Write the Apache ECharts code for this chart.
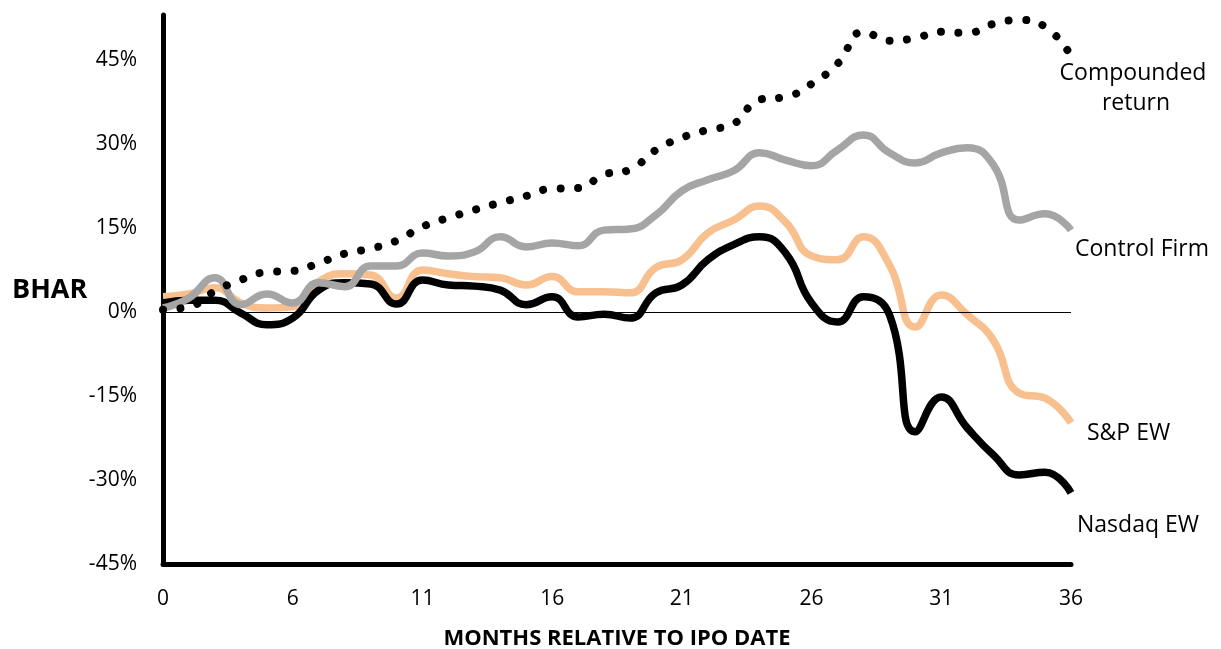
<!DOCTYPE html>
<html>
<head>
<meta charset="utf-8">
<script src="https://cdn.jsdelivr.net/npm/echarts@6/dist/echarts.min.js"></script>
<style>
  html, body { margin: 0; padding: 0; background: #fff; }
  #chart { width: 1221px; height: 649px; }
</style>
</head>
<body>
<div id="chart"></div>
<script>
// months relative to IPO date (category labels, shown every 5th)
var months = ['0', '2', '3', '4', '5', '6', '7', '8', '9', '10', '11', '12', '13', '14', '15', '16', '17', '18',
              '19', '20', '21', '22', '23', '24', '25', '26', '27', '28', '29', '30', '31', '32', '33', '34', '35', '36'];

// BHAR in percent
var spEW = [2.7, 3.2, 4.3, 1.6, 0.7, 0.9, 5.4, 6.8, 6.6, 2.5, 7.5, 6.8, 6.3, 6.1, 4.8, 6.3, 3.6, 3.6,
            3.4, 7.9, 9.3, 14.1, 16.4, 18.9, 16.0, 10.0, 9.3, 13.4, 8.4, -2.7, 3.0, -0.5, -5.0, -14.5, -15.4, -19.8];
var nasdaqEW = [1.6, 2.1, 2.1, -0.2, -2.3, -1.1, 3.9, 5.2, 5.0, 1.4, 5.7, 4.8, 4.6, 3.9, 1.3, 2.7, -0.9, -0.4,
                -1.1, 3.4, 4.8, 9.3, 12.0, 13.4, 10.5, 1.6, -1.8, 2.7, -0.5, -21.4, -15.2, -20.7, -25.5, -29.1, -28.6, -32.3];
var controlFirm = [0.7, 2.5, 6.1, 1.3, 3.2, 1.6, 5.2, 4.5, 8.2, 8.2, 10.5, 10.0, 10.7, 13.4, 11.6, 12.3, 11.8, 14.6,
                   14.8, 17.3, 21.6, 23.6, 25.2, 28.4, 27.1, 26.1, 28.9, 31.6, 28.4, 26.6, 28.4, 29.3, 26.3, 16.4, 17.5, 14.6];
var compounded = [0.4, 0.9, 3.7, 5.7, 7.1, 7.3, 8.7, 10.4, 11.3, 12.7, 15.2, 16.8, 18.2, 19.5, 20.7, 22.0, 22.1, 24.5,
                  25.4, 28.9, 31.1, 32.5, 33.6, 37.9, 38.4, 40.7, 44.3, 50.0, 48.4, 48.9, 50.0, 49.8, 51.4, 52.1, 50.9, 45.7];

var font = '"Open Sans", sans-serif';

function label(text, x, y, opts) {
    return {
        type: 'text', x: x, y: y,
        style: Object.assign({
            text: text, font: '23px ' + font, fill: '#000',
            align: 'left', verticalAlign: 'middle'
        }, opts || {})
    };
}

var myChart = echarts.init(document.getElementById('chart'));
var option = {
    animation: false,
    grid: {
        left: 163,
        right: 150,
        top: 15,
        bottom: 85,
        outerBoundsMode: 'none'
    },
    xAxis: {
        type: 'category',
        data: months,
        boundaryGap: false,
        name: 'MONTHS RELATIVE TO IPO DATE',
        nameLocation: 'middle',
        nameGap: 64,
        nameTextStyle: {
            fontFamily: font,
            fontWeight: 'bold',
            fontSize: 22,
            color: '#000'
        },
        axisLine: {
            onZero: false,
            lineStyle: { color: '#000', width: 5 }
        },
        axisTick: { show: false },
        splitLine: { show: false },
        axisLabel: {
            interval: 4,
            margin: 25,
            fontFamily: font,
            fontSize: 21,
            color: '#000'
        }
    },
    yAxis: {
        type: 'value',
        min: -45,
        max: 53,
        interval: 15,
        axisLine: {
            show: true,
            lineStyle: { color: '#000', width: 5 }
        },
        axisTick: { show: false },
        splitLine: { show: false },
        axisLabel: {
            showMaxLabel: false,
            margin: 26,
            fontFamily: font,
            fontSize: 21,
            color: '#000',
            formatter: function (v) { return Math.round(v) + '%'; }
        }
    },
    graphic: [
        label('BHAR', 12, 290, { font: 'bold 27px ' + font }),
        label('Compounded', 1133, 73, { align: 'center' }),
        label('return', 1136, 103, { align: 'center' }),
        label('Control Firm', 1075, 249),
        label('S&P EW', 1087, 433),
        label('Nasdaq EW', 1077, 525)
    ],
    series: [
        {
            name: 'S&P EW',
            type: 'line',
            data: spEW,
            smooth: 0.5,
            showSymbol: false,
            lineStyle: { color: '#F8C08F', width: 7.5 },
            markLine: {
                silent: true,
                symbol: 'none',
                label: { show: false },
                lineStyle: { color: '#000', width: 1, type: 'solid' },
                data: [{ yAxis: 0 }]
            }
        },
        {
            name: 'Nasdaq EW',
            type: 'line',
            data: nasdaqEW,
            smooth: 0.5,
            showSymbol: false,
            lineStyle: { color: '#000', width: 7.5 }
        },
        {
            name: 'Control Firm',
            type: 'line',
            data: controlFirm,
            smooth: 0.5,
            showSymbol: false,
            lineStyle: { color: '#A5A5A5', width: 7.5 }
        },
        {
            name: 'Compounded return',
            type: 'line',
            data: compounded,
            smooth: 0.5,
            showSymbol: false,
            lineStyle: { color: '#000', width: 8, type: [0.01, 17.5], cap: 'round' }
        }
    ]
};

myChart.setOption(option);

window.addEventListener('resize', function () {
    myChart.resize();
});
</script>
</body>
</html>
